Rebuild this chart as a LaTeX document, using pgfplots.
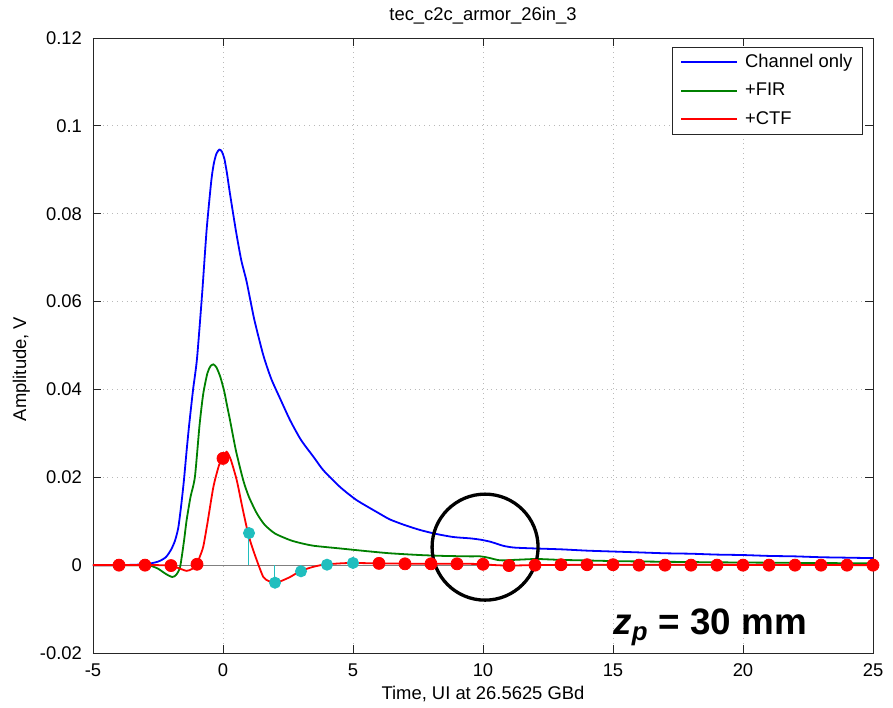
\documentclass[border=0pt]{standalone}
\usepackage{pgfplots}
\pgfplotsset{compat=1.18}
\usepackage{fontspec}
\setmainfont{Liberation Sans}
\definecolor{mblue}{RGB}{0,0,255}
\definecolor{mgreen}{RGB}{0,128,0}
\definecolor{mred}{RGB}{255,0,0}
\definecolor{mcyan}{RGB}{32,190,190}
\newcommand{\fs}{\fontsize{9.2}{11}\selectfont}
\begin{document}
\begin{tikzpicture}
\begin{axis}[
  scale only axis,
  width=390pt, height=307.5pt,
  xmin=-5, xmax=25, ymin=-0.02, ymax=0.12,
  xtick={-5,0,5,10,15,20,25},
  ytick={-0.02,0,0.02,0.04,0.06,0.08,0.1,0.12},
  yticklabels={-0.02,0,0.02,0.04,0.06,0.08,0.1,0.12},
  scaled y ticks=false,
  /pgf/number format/assume math mode=true,
  tick label style={font=\fs},
  tick align=inside, tick pos=both,
  major tick length=4pt,
  axis line style={black!85},
  every tick/.style={black!85},
  grid=major,
  major grid style={dotted, gray!55},
  xlabel={Time, UI at 26.5625 GBd},
  ylabel={Amplitude, V},
  label style={font=\fs},
  xlabel style={at={(0.5,0)}, anchor=north, yshift=-13pt},
  ylabel style={at={(rel axis cs:0,0.462)}, anchor=south, yshift=28pt},
  xticklabel style={yshift=-2pt},
  yticklabel style={xshift=-2pt},
  legend style={at={(rel axis cs:0.987,0.986)}, anchor=north east, font=\fs,
    draw=black!85, fill=white, inner xsep=4pt, inner ysep=2.5pt, row sep=4.3pt,
    nodes={inner sep=1pt}},
  legend cell align=left,
  legend image code/.code={\draw[#1] (0pt,0pt) -- (28pt,0pt); \path (30.5pt,0pt);},
]
\addplot[forget plot, gray, line width=0.6pt] coordinates {(-5,0) (25,0)};

\addplot[mblue, line width=0.9pt, smooth, tension=0.4] coordinates {
(-5,0) (-4,0) (-3,0.0002) (-2.5,0.0008) (-2.2,0.0018) (-2.0,0.0035) (-1.85,0.0055)
(-1.72,0.0085) (-1.6,0.014) (-1.5,0.0195) (-1.4,0.026) (-1.3,0.032) (-1.15,0.040)
(-1.0,0.047) (-0.8,0.062) (-0.63,0.0763) (-0.45,0.0875) (-0.35,0.0915)
(-0.25,0.0937) (-0.14,0.0946) (-0.05,0.0942) (0.05,0.0926) (0.15,0.0893)
(0.27,0.0845) (0.5,0.076) (0.7,0.0695) (0.91,0.0645)
(1.2,0.056) (1.55,0.0478) (1.85,0.0425) (2.19,0.0380) (2.58,0.033) (3.0,0.0285)
(3.5,0.0245) (3.86,0.0216) (4.5,0.0178) (5.14,0.0148) (6.0,0.0118) (6.42,0.0104)
(7,0.0091) (7.58,0.0080) (8.2,0.0071) (8.86,0.0064) (9.5,0.0061) (9.9,0.0058)
(10.3,0.0053) (10.78,0.0044) (11.2,0.0040) (12,0.0038) (13,0.0036) (14,0.0033)
(15,0.0031) (16,0.0029) (17,0.0027) (18,0.0026) (19,0.0024) (20,0.0023)
(21,0.0021) (22,0.0020) (23,0.0018) (24,0.0017) (25,0.0016)};
\addlegendentry{Channel only}

\addplot[mgreen, line width=0.9pt, smooth, tension=0.4] coordinates {
(-5,0) (-3,0) (-2.8,-0.0001) (-2.5,-0.0008) (-2.2,-0.0020) (-1.95,-0.0027)
(-1.8,-0.0022) (-1.65,-0.0004) (-1.5,0.0055) (-1.4,0.0102) (-1.25,0.0155)
(-1.08,0.0201) (-0.9,0.032) (-0.76,0.039) (-0.6,0.0437) (-0.48,0.0453) (-0.37,0.0457)
(-0.25,0.0450) (-0.1,0.0428) (0.05,0.0395) (0.14,0.0368) (0.27,0.033) (0.5,0.026) (0.78,0.0193)
(1.0,0.0155) (1.3,0.0118) (1.6,0.0092) (2.0,0.0072) (2.58,0.0057) (3.0,0.0050)
(3.5,0.0044) (4.5,0.0038) (5.5,0.0032) (6.42,0.0027) (7.58,0.0023) (8.5,0.0021)
(9.5,0.0020) (9.9,0.0020) (10.2,0.0017) (10.65,0.0011) (11.2,0.0012)
(12.06,0.0014) (13,0.0012) (15.27,0.0009) (18,0.0007) (20,0.0006) (25,0.0004)};
\addlegendentry{+FIR}

\addplot[mred, line width=0.9pt, smooth, tension=0.4] coordinates {
(-5,0) (-2.5,0) (-2.0,-0.0001) (-1.7,-0.0007) (-1.4,-0.0013) (-1.2,-0.0009)
(-1.0,0.0002) (-0.9,0.0018) (-0.76,0.0042) (-0.6,0.0095) (-0.37,0.0178)
(-0.15,0.0228) (0,0.0245) (0.14,0.0258) (0.3,0.0240) (0.53,0.0193) (0.75,0.0130)
(0.95,0.0076) (1.1,0.0045) (1.3,0.0011) (1.55,-0.0027) (1.75,-0.0036)
(1.97,-0.0040) (2.2,-0.0037) (2.58,-0.0027) (2.96,-0.0014) (3.4,-0.0005)
(3.86,0.0001) (4.5,0.0004) (5,0.0005) (6,0.0004) (8,0.0003) (9.5,0.0003)
(10,0.0002) (10.5,0.0000) (11,-0.0001) (12,0.0000) (15,0.0001) (25,0.0000)};
\addlegendentry{+CTF}

\addplot[forget plot, ycomb, mcyan, line width=0.5pt, mark=*, mark size=2.75pt,
  mark options={fill=mcyan, draw=mcyan}] coordinates {
(1,0.0073) (2,-0.0040) (3,-0.0014) (4,0.0001) (5,0.0005)};

\addplot[forget plot, only marks, mark=*, mark size=3pt, mred,
  mark options={fill=mred, draw=mred}] coordinates {
(-4,0) (-3,0) (-2,-0.0001) (-1,0.0002) (0,0.0243) (6,0.0004) (7,0.0003)
(8,0.0003) (9,0.0003) (10,0.0002) (11,-0.0001) (12,0.0000) (13,0.0001)
(14,0.0001) (15,0.0001) (16,0.0000) (17,0.0000) (18,0.0000) (19,0.0000)
(20,0.0000) (21,0.0000) (22,0.0000) (23,0.0000) (24,0.0000) (25,0.0000)};

\draw[black, line width=1.65pt] (axis cs:10.08,0.0041) circle [radius=26.5pt];
\node[anchor=base west, inner sep=0pt, font=\fontsize{18.4}{20}\selectfont\bfseries]
  at (axis cs:15.0,-0.0159) {\textit{z}\textsubscript{\textit{p}} = 30 mm};
\end{axis}
\node[anchor=base, inner sep=0pt, font=\fs] at (195pt,316pt) {tec\_c2c\_armor\_26in\_3};
\pgfresetboundingbox
\path (-46.5pt,-27pt) rectangle (400pt,326.5pt);
\end{tikzpicture}
\end{document}
